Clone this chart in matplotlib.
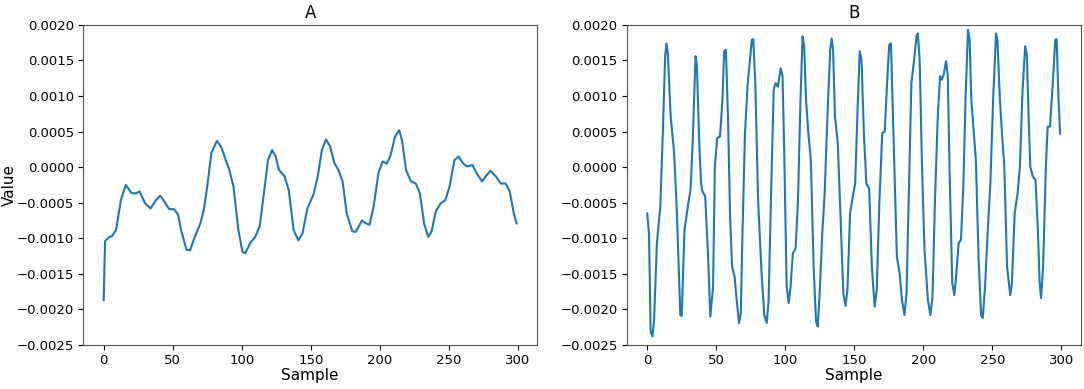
import numpy as np
import matplotlib.pyplot as plt

# key points (sample index, value)
a_x = [0, 1, 4, 6, 9, 12.5, 16, 20, 23, 26, 30, 34, 38, 41, 44.5, 47.5, 51, 54, 56, 60,
       62.5, 66, 70, 72.5, 75, 78, 82, 85, 87.5, 91, 94, 97.5, 100.5, 102.5, 106, 110, 113,
       116, 119, 122, 124.5, 127, 131, 134, 137.5, 141, 144, 147.5, 152, 155, 158, 161, 164,
       167, 170, 173, 176, 180, 182.5, 187, 190, 192.5, 195.5, 199, 202, 205, 207.5, 211,
       214, 216, 219, 222.5, 226, 229, 232, 235, 237.5, 240.5, 244, 247.5, 250.5, 254, 257,
       260, 263, 267, 270, 274, 277, 280, 284, 287.5, 291, 294, 297, 299]
a_y = [-0.00187, -0.00104, -0.00098, -0.00097, -0.00088, -0.00046, -0.00025, -0.00036,
       -0.00037, -0.00034, -0.00051, -0.00058, -0.00046, -0.00040, -0.00050, -0.00059,
       -0.00059, -0.00067, -0.00088, -0.00116, -0.00117, -0.00098, -0.00079, -0.00060,
       -0.00027, 0.00020, 0.00037, 0.00029, 0.00015, -0.00004, -0.00027, -0.00088, -0.00119,
       -0.00121, -0.00107, -0.00097, -0.00083, -0.00037, 0.00010, 0.00024, 0.00015, -0.00004,
       -0.00013, -0.00032, -0.00088, -0.00103, -0.00093, -0.00058, -0.00038, -0.00013,
       0.00024, 0.00039, 0.00029, 0.00006, -0.00004, -0.00020, -0.00065, -0.00090, -0.00091,
       -0.00075, -0.00079, -0.00081, -0.00055, -0.00008, 0.00008, 0.00005, 0.00015, 0.00043,
       0.00052, 0.00038, -0.00004, -0.00020, -0.00023, -0.00037, -0.00079, -0.00098, -0.00090,
       -0.00062, -0.00051, -0.00046, -0.00027, 0.00010, 0.00015, 0.00006, 0.00001, 0.00003,
       -0.00008, -0.00020, -0.00012, -0.00005, -0.00013, -0.00023, -0.00023, -0.00034,
       -0.00065, -0.00079]

b_x = [0, 1.3, 2.5, 3.8, 5, 7, 9.5, 11.3, 13, 14, 15, 17, 19.5, 21.3, 24, 25, 27, 29.6, 31.4,
       33, 35, 36, 37.7, 39, 40, 42, 44, 45.7, 47.7, 49, 50.7, 52.7, 54.5, 55.7, 57, 58.5, 60,
       61.5, 63.3, 64.8, 66.5, 67.8, 69, 70.8, 72.8, 74.8, 75.8, 76.8, 78.3, 80.3, 82.8, 84.8,
       86.6, 87.9, 89.9, 91.6, 92.9, 94.6, 96.6, 98, 99.2, 101, 102.5, 103.8, 105.5, 107.5,
       109.2, 111, 112.5, 113.7, 115, 116.7, 118.5, 120.5, 122.3, 123.5, 125, 126.8, 128.5,
       130.5, 132.5, 133.6, 134.6, 136, 138, 140, 142, 143.6, 145, 146.9, 148.9, 150.6, 152.4,
       153.9, 155.2, 156.9, 158.7, 160.7, 162.7, 164.7, 166.2, 168.2, 170.2, 172, 173.7, 175.2,
       176.5, 178.3, 180.8, 182.8, 184.5, 186.3, 187.8, 189.6, 191.3, 193.3, 195, 196, 197.3,
       199, 200.8, 203.3, 205.1, 206.6, 208.4, 210.4, 212.1, 213.4, 214.7, 216.4, 217.7,
       218.9, 220.9, 222.4, 223.9, 225.5, 227.2, 229, 230.5, 232.3, 233.5, 234.7, 236.5, 238,
       240, 241.8, 243, 244.8, 246.5, 248.5, 250.5, 252.6, 253.6, 255.4, 256.9, 258.6, 260.6,
       262.9, 264.1, 266.1, 268.2, 269.9, 271.7, 273.7, 274.9, 276.2, 277.4, 279.2, 281.2,
       283, 284.2, 285.2, 286.7, 288.7, 290, 291.7, 293.7, 295.5, 296.5, 297.7, 299]
b_y = [-0.00065, -0.00093, -0.00231, -0.00238, -0.00215, -0.00107, -0.00055, 0.00048,
       0.00156, 0.00174, 0.00158, 0.00071, 0.00020, -0.00055, -0.00208, -0.00209, -0.00088,
       -0.00053, -0.00032, 0.00038, 0.00156, 0.00142, 0.00034, -0.00023, -0.00034, -0.00041,
       -0.00121, -0.00210, -0.00168, 0.00001, 0.00041, 0.00043, 0.00095, 0.00163, 0.00165,
       0.00071, -0.00069, -0.00140, -0.00154, -0.00187, -0.00219, -0.00205, -0.00093,
       0.00048, 0.00118, 0.00158, 0.00179, 0.00180, 0.00118, -0.00046, -0.00149, -0.00208,
       -0.00219, -0.00187, -0.00023, 0.00109, 0.00118, 0.00113, 0.00139, 0.00128, 0.00024,
       -0.00168, -0.00191, -0.00168, -0.00121, -0.00114, -0.00046, 0.00095, 0.00184, 0.00170,
       0.00095, 0.00048, 0.00010, -0.00140, -0.00217, -0.00224, -0.00173, -0.00093, -0.00037,
       0.00071, 0.00165, 0.00181, 0.00165, 0.00071, 0.00034, -0.00069, -0.00177, -0.00195,
       -0.00173, -0.00065, -0.00041, -0.00023, 0.00085, 0.00163, 0.00151, 0.00048, -0.00023,
       -0.00030, -0.00140, -0.00196, -0.00173, -0.00046, 0.00048, 0.00050, 0.00118, 0.00172,
       0.00174, 0.00048, -0.00126, -0.00149, -0.00187, -0.00208, -0.00177, -0.00023, 0.00118,
       0.00151, 0.00184, 0.00188, 0.00151, 0.00001, -0.00116, -0.00187, -0.00208, -0.00182,
       -0.00046, 0.00071, 0.00128, 0.00123, 0.00130, 0.00149, 0.00128, 0.00001, -0.00163,
       -0.00180, -0.00149, -0.00107, -0.00102, -0.00023, 0.00095, 0.00193, 0.00179, 0.00095,
       0.00048, 0.00010, -0.00130, -0.00208, -0.00212, -0.00163, -0.00093, -0.00023, 0.00095,
       0.00188, 0.00179, 0.00095, 0.00048, 0.00001, -0.00140, -0.00180, -0.00163, -0.00065,
       -0.00037, 0.00001, 0.00104, 0.00170, 0.00158, 0.00071, 0.00001, -0.00013, -0.00018,
       -0.00093, -0.00163, -0.00184, -0.00140, 0.00001, 0.00057, 0.00057, 0.00118, 0.00179,
       0.00180, 0.00104, 0.00047]

titles = ["A", "B"]
yticks = [-0.0025, -0.002, -0.0015, -0.001, -0.0005, 0.0, 0.0005, 0.001, 0.0015, 0.002]
xticks = [0, 50, 100, 150, 200, 250, 300]

plt.rcParams['font.size'] = 9.5
fig = plt.figure(figsize=(10.84, 3.89), dpi=100)
ax1 = fig.add_axes([0.0766, 0.113, 0.419, 0.823])
ax2 = fig.add_axes([0.578, 0.113, 0.419, 0.823])

for ax, xs, ys, t in [(ax1, a_x, a_y, titles[0]), (ax2, b_x, b_y, titles[1])]:
    ax.plot(xs, ys, color='#1f77b4', lw=1.5)
    ax.set_ylim(-0.0025, 0.002)
    ax.set_yticks(yticks)
    ax.set_yticklabels([("%.4f" % v).replace("-", "\u2212") for v in yticks])
    ax.set_xticks(xticks)
    ax.tick_params(labelsize=9.5, pad=3)
    ax.set_title(t, fontsize=12, pad=5)
    ax.set_xlabel("Sample", fontsize=11, labelpad=1)
    for s in ax.spines.values():
        s.set_color('#555555')

ax1.set_ylabel("Value", fontsize=11)
ax1.yaxis.set_label_coords(-0.145, 0.5)

plt.savefig("out.png", dpi=100)
